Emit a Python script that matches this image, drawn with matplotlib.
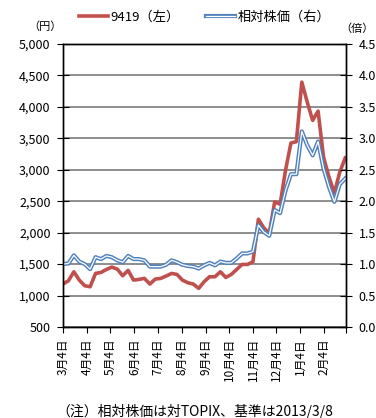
import matplotlib
matplotlib.use("Agg")
import matplotlib.pyplot as plt
import matplotlib.patheffects as pe
from matplotlib.ticker import FuncFormatter, MultipleLocator
import pandas as pd

plt.rcParams['font.family'] = ['Noto Sans CJK JP', 'DejaVu Sans']

# weekly data, 2013/3/4 - 2014/3/3
dates = pd.date_range('2013-03-04', periods=53, freq='7D')

price = [1183, 1235, 1378, 1246, 1156, 1140, 1352, 1368, 1415, 1452,
         1421, 1315, 1400, 1246, 1257, 1273, 1183, 1262, 1273, 1310,
         1352, 1336, 1246, 1204, 1183, 1114, 1220, 1299, 1299, 1378,
         1288, 1336, 1415, 1495, 1495, 1537, 2214, 2077, 1987, 2489,
         2452, 2992, 3426, 3447, 4394, 4076, 3785, 3933, 3203, 2886,
         2632, 2965, 3188]

relative = [1.00, 1.01, 1.14, 1.04, 1.00, 0.92, 1.11, 1.08, 1.13, 1.11,
            1.06, 1.03, 1.13, 1.08, 1.08, 1.06, 0.96, 0.96, 0.96, 0.99,
            1.06, 1.03, 0.99, 0.97, 0.96, 0.93, 0.98, 1.02, 0.98, 1.04,
            1.02, 1.02, 1.09, 1.17, 1.17, 1.20, 1.62, 1.51, 1.45, 1.86,
            1.81, 2.17, 2.43, 2.43, 3.11, 2.89, 2.73, 2.95, 2.52, 2.23,
            1.99, 2.27, 2.36]

tick_dates = pd.date_range('2013-03-01', '2014-02-01', freq='MS') + pd.Timedelta(days=3)
tick_labels = [f"{d.month}月4日" for d in tick_dates]

W, H = 376, 418
fig = plt.figure(figsize=(W / 100, H / 100), dpi=100)
ax1 = fig.add_axes([63 / W, 1 - 327 / H, (346 - 63) / W, (327 - 44) / H])
ax2 = ax1.twinx()

red = '#C0504D'
blue = '#4F81BD'

l1, = ax1.plot(dates, price, color=red, lw=2.6, label='9419（左）')
l2, = ax2.plot(dates, relative, color='white', lw=0.9, label='相対株価（右）',
               path_effects=[pe.Stroke(linewidth=3.0, foreground=blue), pe.Normal()])

ax1.set_ylim(500, 5000)
ax1.yaxis.set_major_locator(MultipleLocator(500))
ax1.yaxis.set_major_formatter(FuncFormatter(lambda v, p: f"{v:,.0f}"))
ax2.set_ylim(0, 4.5)
ax2.yaxis.set_major_locator(MultipleLocator(0.5))
ax2.yaxis.set_major_formatter(FuncFormatter(lambda v, p: f"{v:.1f}"))

ax1.set_xlim(pd.Timestamp('2013-03-04'), pd.Timestamp('2014-03-04'))
all_ticks = list(tick_dates) + [pd.Timestamp('2014-03-04')]
ax1.set_xticks(all_ticks)
ax1.set_xticklabels(tick_labels + [''], rotation=90, fontsize=8.5)

ax1.grid(axis='y', color='#6f6f6f', lw=1.1)
ax1.set_axisbelow(True)

for ax in (ax1, ax2):
    for s in ax.spines.values():
        s.set_color('black')
        s.set_linewidth(1.0)
ax1.tick_params(axis='y', direction='inout', length=8, labelsize=9, pad=5)
ax2.tick_params(axis='y', direction='inout', length=8, labelsize=9, pad=5)
ax1.tick_params(axis='x', direction='out', length=4, pad=4)

fig.text(62 / W, 1 - 27 / H, '（円）', ha='right', va='center', fontsize=8)
fig.text(340 / W, 1 - 29 / H, '（倍）', ha='left', va='center', fontsize=8)

fig.legend(handles=[l1, l2], loc='center', bbox_to_anchor=(205 / W, 1 - 17 / H),
           ncol=2, frameon=False, fontsize=9.5, handlelength=2.2, handletextpad=0.2,
           columnspacing=2.0)

fig.text(195 / W, 1 - 404 / H, '（注）相対株価は対TOPIX、基準は2013/3/8',
         ha='center', va='top', fontsize=10)

fig.savefig('out.png', dpi=100)
